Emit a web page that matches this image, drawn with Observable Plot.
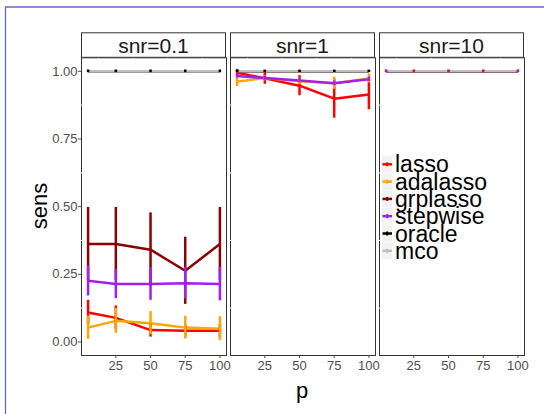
<!DOCTYPE html>
<html><head><meta charset="utf-8">
<script src="https://cdn.jsdelivr.net/npm/d3@7"></script>
<script src="https://cdn.jsdelivr.net/npm/@observablehq/plot@0.6"></script>
<style>
body{margin:0;background:#fff}
#chart{position:relative;width:544px;height:414px;overflow:hidden}
</style>
</head><body><div id="chart"></div>
<script>
const P = [5, 25, 50, 75, 100];
const snrLevels = [0.1, 1, 10];
const snrLabels = ["snr=0.1", "snr=1", "snr=10"];
const methods = ["lasso", "adalasso", "grplasso", "stepwise", "oracle", "mco"];
const colors = ["#ff0000", "#ffa500", "#8b0000", "#a020f0", "#000000", "#bebebe"];
const xTicks = [25, 50, 75, 100];
const yTicks = [0, 0.25, 0.5, 0.75, 1];

// snr = 0.1
const sens01_lasso    = [0.109, 0.089, 0.044, 0.041, 0.041];
const err01_lasso     = [0.045, 0.044, 0.026, 0.024, 0.024];
const sens01_adalasso = [0.053, 0.078, 0.069, 0.053, 0.049];
const err01_adalasso  = [0.043, 0.046, 0.043, 0.042, 0.044];
const sens01_grplasso = [0.362, 0.362, 0.341, 0.263, 0.362];
const err01_grplasso  = [0.135, 0.135, 0.136, 0.124, 0.135];
const sens01_stepwise = [0.226, 0.214, 0.214, 0.217, 0.214];
const err01_stepwise  = [0.056, 0.054, 0.060, 0.058, 0.062];
const sens01_oracle   = [1, 1, 1, 1, 1];
const err01_oracle    = [0.005, 0.005, 0.005, 0.005, 0.005];
const sens01_mco      = [1, 1, 1, 1, 1];
const err01_mco       = [0, 0, 0, 0, 0];

// snr = 1
const sens1_lasso    = [0.995, 0.974, 0.947, 0.899, 0.914];
const err1_lasso     = [0.012, 0.022, 0.037, 0.072, 0.056];
const sens1_adalasso = [0.962, 0.975, 0.963, 0.956, 0.974];
const err1_adalasso  = [0.018, 0.010, 0.012, 0.022, 0.017];
const sens1_grplasso = [1, 1, 1, 1, 1];
const err1_grplasso  = [0.004, 0.004, 0.004, 0.004, 0.004];
const sens1_stepwise = [0.983, 0.975, 0.966, 0.956, 0.971];
const err1_stepwise  = [0.008, 0.008, 0.008, 0.008, 0.008];
const sens1_oracle   = [1, 1, 1, 1, 1];
const err1_oracle    = [0.004, 0.004, 0.004, 0.004, 0.004];
const sens1_mco      = [1, 1, 1, 1, 1];
const err1_mco       = [0, 0, 0, 0, 0];

// snr = 10
const sens10_lasso    = [1, 1, 1, 1, 1];
const err10_lasso     = [0.005, 0.005, 0.005, 0.005, 0.005];
const sens10_adalasso = [1, 1, 1, 1, 1];
const err10_adalasso  = [0, 0, 0, 0, 0];
const sens10_grplasso = [1, 1, 1, 1, 1];
const err10_grplasso  = [0, 0, 0, 0, 0];
const sens10_stepwise = [1, 1, 1, 1, 1];
const err10_stepwise  = [0.004, 0, 0, 0, 0.004];
const sens10_oracle   = [1, 1, 1, 1, 1];
const err10_oracle    = [0, 0, 0, 0, 0];
const sens10_mco      = [1, 1, 1, 1, 1];
const err10_mco       = [0, 0, 0, 0, 0];

const series = {
  0.1: [[sens01_lasso, err01_lasso], [sens01_adalasso, err01_adalasso], [sens01_grplasso, err01_grplasso],
        [sens01_stepwise, err01_stepwise], [sens01_oracle, err01_oracle], [sens01_mco, err01_mco]],
  1:   [[sens1_lasso, err1_lasso], [sens1_adalasso, err1_adalasso], [sens1_grplasso, err1_grplasso],
        [sens1_stepwise, err1_stepwise], [sens1_oracle, err1_oracle], [sens1_mco, err1_mco]],
  10:  [[sens10_lasso, err10_lasso], [sens10_adalasso, err10_adalasso], [sens10_grplasso, err10_grplasso],
        [sens10_stepwise, err10_stepwise], [sens10_oracle, err10_oracle], [sens10_mco, err10_mco]]
};

const rows = [];
snrLevels.forEach(s => {
  series[s].forEach(([vals, errs], m) => {
    P.forEach((p, i) => rows.push({snr: s, method: methods[m], p, sens: vals[i], lo: vals[i] - errs[i], hi: vals[i] + errs[i]}));
  });
});

const FONT = "Liberation Sans, Arial, Helvetica, sans-serif";

const plot = Plot.plot({
  width: 544, height: 414,
  marginLeft: 79.8, marginRight: 19.4, marginTop: 57.3, marginBottom: 59,
  style: {fontFamily: FONT, background: "transparent", overflow: "visible"},
  fx: {domain: snrLevels, paddingInner: 0.028, paddingOuter: 0, axis: null, label: null},
  x: {domain: [0.25, 104.75]},
  y: {domain: [-0.05, 1.05]},
  color: {domain: methods, range: colors},
  marks: [
    Plot.frame({stroke: "#333", strokeWidth: 1}),
    Plot.gridX([12.5, 37.5, 62.5, 87.5], {stroke: "white", strokeOpacity: 1, strokeWidth: 1}),
    Plot.gridY([0.125, 0.375, 0.625, 0.875], {stroke: "white", strokeOpacity: 1, strokeWidth: 1}),
    Plot.line(rows, {fx: "snr", x: "p", y: "sens", z: "method", stroke: "method", strokeWidth: 2.5, strokeLinecap: "butt"}),
    Plot.ruleX(rows.filter(d => d.hi > d.lo), {fx: "snr", x: "p", y1: "lo", y2: "hi", stroke: "method", strokeWidth: 2.5}),
    Plot.axisY({ticks: yTicks, tickFormat: ".2f", tickSize: 3, tickPadding: 1, fontSize: 13, color: "#4d4d4d", label: null}),
    Plot.axisX({ticks: xTicks, tickSize: 3, tickPadding: 2, fontSize: 13, color: "#4d4d4d", label: null})
  ]
});

const svg = d3.select(plot);
const fx = plot.scale("fx");

// strips
snrLevels.forEach((s, i) => {
  const x0 = fx.apply(s);
  svg.append("rect").attr("x", x0 + 0.5).attr("y", 32.8).attr("width", fx.bandwidth - 1).attr("height", 24.5)
    .attr("fill", "white").attr("stroke", "#333").attr("stroke-width", 1);
  svg.append("text").attr("x", x0 + fx.bandwidth / 2).attr("y", 52.8).attr("text-anchor", "middle")
    .attr("font-family", FONT).attr("font-size", 21).attr("fill", "#1a1a1a").text(snrLabels[i]);
});

// axis titles
svg.append("text").attr("transform", "translate(46.8,206) rotate(-90)").attr("text-anchor", "middle")
  .attr("font-family", FONT).attr("font-size", 22).attr("fill", "black").text("sens");
svg.append("text").attr("x", 302).attr("y", 398).attr("text-anchor", "middle")
  .attr("font-family", FONT).attr("font-size", 22).attr("fill", "black").text("p");

// legend
const lg = svg.append("g").attr("text-anchor", "start");
methods.forEach((m, i) => {
  const cy = 164.3 + i * 17.3;
  lg.append("rect").attr("x", 382).attr("y", cy - 8.4).attr("width", 10.3).attr("height", 16.8).attr("fill", "#f2f2f2");
  lg.append("line").attr("x1", 382.5).attr("x2", 392).attr("y1", cy).attr("y2", cy)
    .attr("stroke", colors[i]).attr("stroke-width", 2.5);
  lg.append("line").attr("x1", 387.2).attr("x2", 387.2).attr("y1", cy - 2).attr("y2", cy + 2)
    .attr("stroke", colors[i]).attr("stroke-width", 2);
  lg.append("text").attr("x", 395).attr("y", cy + 8).attr("text-anchor", "start").attr("font-family", FONT).attr("font-size", 23)
    .attr("fill", "black").text(m);
});

// outer frame line
svg.append("path").attr("d", "M5.5,414V7H544").attr("fill", "none").attr("stroke", "#6468c8").attr("stroke-width", 1.3);

document.getElementById("chart").appendChild(plot);
</script>
</body></html>
